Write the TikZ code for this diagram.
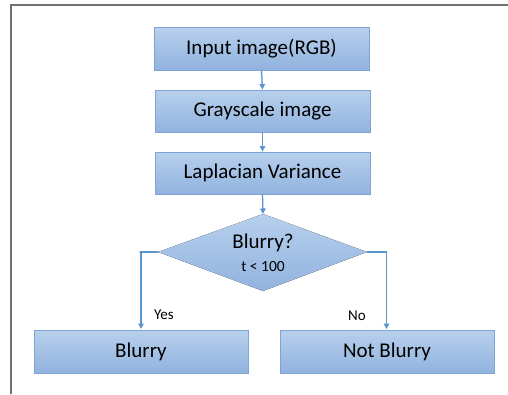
\documentclass[tikz,border=0pt]{standalone}
\usepackage{fontspec}
\setmainfont{Carlito}
\usetikzlibrary{arrows.meta,shapes.geometric}
\definecolor{boxtop}{HTML}{B7D0EC}
\definecolor{boxbot}{HTML}{92B3DF}
\definecolor{boxedge}{HTML}{7FA3D2}
\definecolor{arrowc}{HTML}{5B95D0}
\definecolor{framec}{HTML}{707070}
\tikzset{
  stepbox/.style={draw=boxedge, line width=0.8pt, top color=boxtop, bottom color=boxbot, inner sep=0pt, font=\fontsize{21}{22}\selectfont},
  flow/.style={draw=arrowc, line width=1.3pt, -{Triangle[width=5.5pt,length=5.5pt]}},
  lbl/.style={font=\fontsize{15}{16}\selectfont, inner sep=0pt}
}
\begin{document}
\begin{tikzpicture}[x=1pt,y=-1pt]
\useasboundingbox (0,0) rectangle (508,394);
\fill[white] (0,0) rectangle (508,394);
\coordinate (ftl) at (11,5);
\coordinate (ftr) at (508,5);
\coordinate (fbl) at (11,394);
\draw[framec, line width=1.6pt] (ftr) -- (ftl) -- (fbl);

\node[stepbox, minimum width=215pt, minimum height=43pt] (in) at (261.5,48.5) {Input image(RGB)};
\node[stepbox, minimum width=215pt, minimum height=42pt] (gray) at (262.5,111) {Grayscale image};
\node[stepbox, minimum width=215pt, minimum height=42pt] (lap) at (262.5,173) {Laplacian Variance};

\fill[top color=boxtop, bottom color=boxbot] (263,214) -- (367,252) -- (263,291) -- (158,252) -- cycle;
\coordinate (dtop) at (263,214);
\coordinate (dleft) at (158,252);
\coordinate (dright) at (367,252);
\node[font=\fontsize{21}{22}\selectfont, inner sep=0pt] (q) at (263,243) {Blurry?};
\node[font=\fontsize{15.5}{16}\selectfont, inner sep=0pt] (t) at (263,267) {t < 100};

\node[stepbox, minimum width=214pt, minimum height=43pt] (blur) at (141,351.5) {Blurry};
\node[stepbox, minimum width=214pt, minimum height=43pt] (nblur) at (387,351.5) {Not Blurry};

\draw[flow] (in.south) -- (gray.north);
\draw[flow] (gray.south) -- (lap.north);
\draw[flow] (lap.south) -- (dtop);
\coordinate (yc) at (141,252);
\coordinate (ye) at (141,329);
\coordinate (nc) at (386.5,252);
\coordinate (ne) at (386.5,329);
\draw[flow] (dleft) -- (139.5,252) -- (yc) -- (ye);
\draw[flow] (dright) -- (nc) -- (ne);
\node[lbl] (yes) at (164,315) {Yes};
\node[lbl] (no) at (357,316) {No};
\end{tikzpicture}
\end{document}
